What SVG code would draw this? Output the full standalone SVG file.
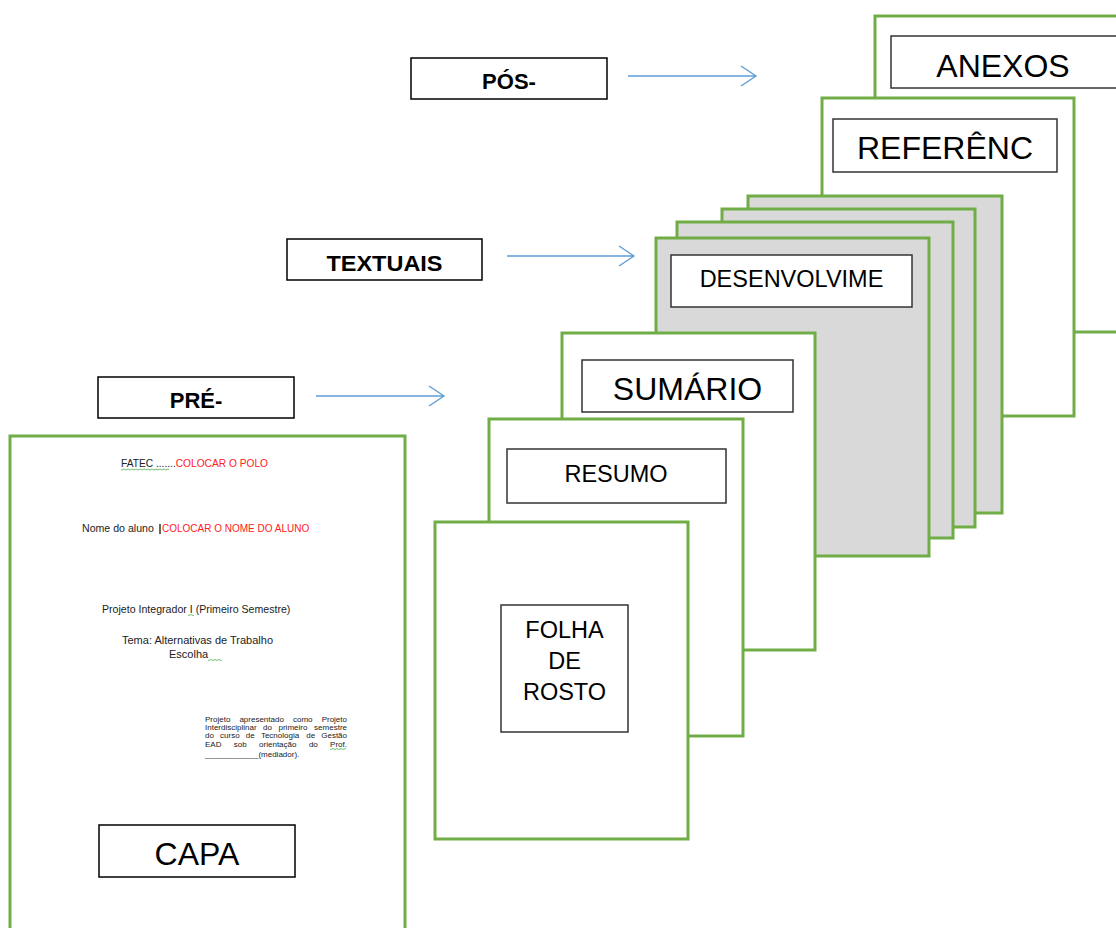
<svg xmlns="http://www.w3.org/2000/svg" width="1116" height="928" viewBox="0 0 1116 928">
<style>
.page{fill:#FFFFFF;stroke:#70AD47;stroke-width:3}
.gray{fill:#D9D9D9;stroke:#70AD47;stroke-width:3}
.tbox{fill:#FFFFFF;stroke:#333333;stroke-width:1.5}
.lbox{fill:#FFFFFF;stroke:#000000;stroke-width:1.5}
.big{font-family:"Liberation Sans",Arial,sans-serif;font-size:32px;fill:#000000;text-anchor:middle}
.mid{font-family:"Liberation Sans",Arial,sans-serif;font-size:23.5px;fill:#000000;text-anchor:middle}
.lbl{font-family:"Liberation Sans",Arial,sans-serif;font-size:22px;font-weight:bold;fill:#000000;text-anchor:middle}
.sm{font-family:"Liberation Sans",Arial,sans-serif;fill:#222222}
.red{fill:#FF2020}
.tiny{font-family:"Liberation Sans",Arial,sans-serif;font-size:8px;fill:#222222}
.tend{text-anchor:end}
.conn{stroke:#5B9BD5;stroke-width:1.3;fill:none}
.squig{fill:none;stroke:#4CAF50;stroke-width:0.8}
</style>
<defs>
<marker id="arr" markerUnits="userSpaceOnUse" viewBox="0 0 20 24" markerWidth="20" markerHeight="24" refX="16" refY="11" orient="auto">
<path d="M1,1 L16,11 L1,21" fill="none" stroke="#5B9BD5" stroke-width="1.3"/>
</marker>
</defs>
<rect width="1116" height="928" fill="#FFFFFF"/>

<g id="anexos">
<rect class="page" x="875" y="16" width="260" height="316"/>
<rect class="tbox" x="891" y="36" width="230" height="52"/>
<text class="big" x="1003" y="77">ANEXOS</text>
</g>

<g id="referencias">
<rect class="page" x="822" y="98" width="252" height="318"/>
<rect class="tbox" x="833" y="119" width="224" height="53"/>
<text class="big" x="945" y="159">REFERÊNC</text>
</g>

<g id="textual-pages">
<rect class="gray" x="748" y="196" width="254" height="317"/>
<rect class="gray" x="722" y="209" width="253" height="318"/>
<rect class="gray" x="677" y="222" width="276" height="316"/>
</g>

<g id="desenvolvimento">
<rect class="gray" x="656" y="238" width="273" height="318"/>
<rect class="tbox" x="671" y="255" width="241" height="52"/>
<text class="mid" x="791.5" y="287">DESENVOLVIME</text>
</g>

<g id="sumario">
<rect class="page" x="562" y="333" width="253" height="317"/>
<rect class="tbox" x="582" y="360" width="211" height="52"/>
<text class="big" x="687.5" y="400">SUMÁRIO</text>
</g>

<g id="resumo">
<rect class="page" x="489" y="419" width="254" height="317"/>
<rect class="tbox" x="507" y="449" width="219" height="54"/>
<text class="mid" x="616" y="482">RESUMO</text>
</g>

<g id="folha-de-rosto">
<rect class="page" x="435" y="522" width="253" height="317"/>
<rect class="tbox" x="501" y="605" width="127" height="127"/>
<text class="mid" x="564.5" y="638">FOLHA</text>
<text class="mid" x="564.5" y="669">DE</text>
<text class="mid" x="564.5" y="700">ROSTO</text>
</g>

<g id="capa">
<rect class="page" x="10" y="436" width="395" height="510"/>
<text class="sm" x="121" y="467" font-size="10.2">FATEC .......<tspan class="red">COLOCAR O POLO</tspan></text>
<path class="squig" d="M121,469.5 q1,1 2,0 q1,-1 2,0 q1,1 2,0 q1,-1 2,0 q1,1 2,0 q1,-1 2,0 q1,1 2,0 q1,-1 2,0 q1,1 2,0 q1,-1 2,0 q1,1 2,0 q1,-1 2,0 q1,1 2,0 q1,-1 2,0 q1,1 2,0 q1,-1 2,0 q1,1 2,0 q1,-1 2,0 q1,1 2,0 q1,-1 2,0 q1,1 2,0 q1,-1 2,0 q1,1 2,0 q1,-1 2,0"/>
<text class="sm" x="82" y="532" font-size="10.6">Nome do aluno</text>
<line x1="160" y1="524" x2="160" y2="534" stroke="#000000" stroke-width="1.2"/>
<text class="sm red" x="162" y="532" font-size="10">COLOCAR O NOME DO ALUNO</text>
<text class="sm" x="102" y="613" font-size="10.6">Projeto Integrador I (Primeiro Semestre)</text>
<path class="squig" d="M188,615 q1,1 2,0 q1,-1 2,0 q1,1 2,0"/>
<text class="sm" x="122" y="644" font-size="11">Tema: Alternativas de Trabalho</text>
<text class="sm" x="169" y="658" font-size="11">Escolha</text>
<path class="squig" d="M208,660 q1,1 2,0 q1,-1 2,0 q1,1 2,0 q1,-1 2,0 q1,1 2,0 q1,-1 2,0 q1,1 2,0"/>
<text class="tiny" y="722"><tspan x="205">Projeto</tspan><tspan x="239.4">apresentado</tspan><tspan x="293">como</tspan></text>
<text class="tiny tend" x="347" y="722">Projeto</text>
<text class="tiny" y="730"><tspan x="205">Interdisciplinar</tspan><tspan x="263">do</tspan><tspan x="278.5">primeiro</tspan></text>
<text class="tiny tend" x="347" y="730">semestre</text>
<text class="tiny" y="738"><tspan x="205">do</tspan><tspan x="220.1">curso</tspan><tspan x="245.8">de</tspan><tspan x="260.9">Tecnologia</tspan><tspan x="306.2">de</tspan></text>
<text class="tiny tend" x="347" y="738">Gestão</text>
<text class="tiny" y="747"><tspan x="205">EAD</tspan><tspan x="233.8">sob</tspan><tspan x="259.1">orientação</tspan><tspan x="308.9">do</tspan></text>
<text class="tiny tend" x="347" y="747">Prof.</text>
<path class="squig" d="M330,749 q1,1 2,0 q1,-1 2,0 q1,1 2,0 q1,-1 2,0 q1,1 2,0 q1,-1 2,0 q1,1 2,0 q1,-1 2,0"/>
<text class="tiny" x="205" y="757">____________(mediador).</text>
<rect class="lbox" x="99" y="825" width="196" height="52"/>
<text class="big" x="197" y="865">CAPA</text>
</g>

<g id="label-pos">
<rect class="lbox" x="411" y="58" width="196" height="41"/>
<text class="lbl" x="509" y="89">PÓS-</text>
</g>
<g id="label-textuais">
<rect class="lbox" x="287" y="239" width="195" height="41"/>
<text class="lbl" x="384.5" y="271" textLength="116" lengthAdjust="spacingAndGlyphs">TEXTUAIS</text>
</g>
<g id="label-pre">
<rect class="lbox" x="98" y="377" width="196" height="41"/>
<text class="lbl" x="196" y="408">PRÉ-</text>
</g>

<g id="connectors">
<line class="conn" x1="628" y1="76" x2="756" y2="76" marker-end="url(#arr)"/>
<line class="conn" x1="507" y1="256" x2="634" y2="256" marker-end="url(#arr)"/>
<line class="conn" x1="316" y1="396" x2="444" y2="396" marker-end="url(#arr)"/>
</g>
</svg>
